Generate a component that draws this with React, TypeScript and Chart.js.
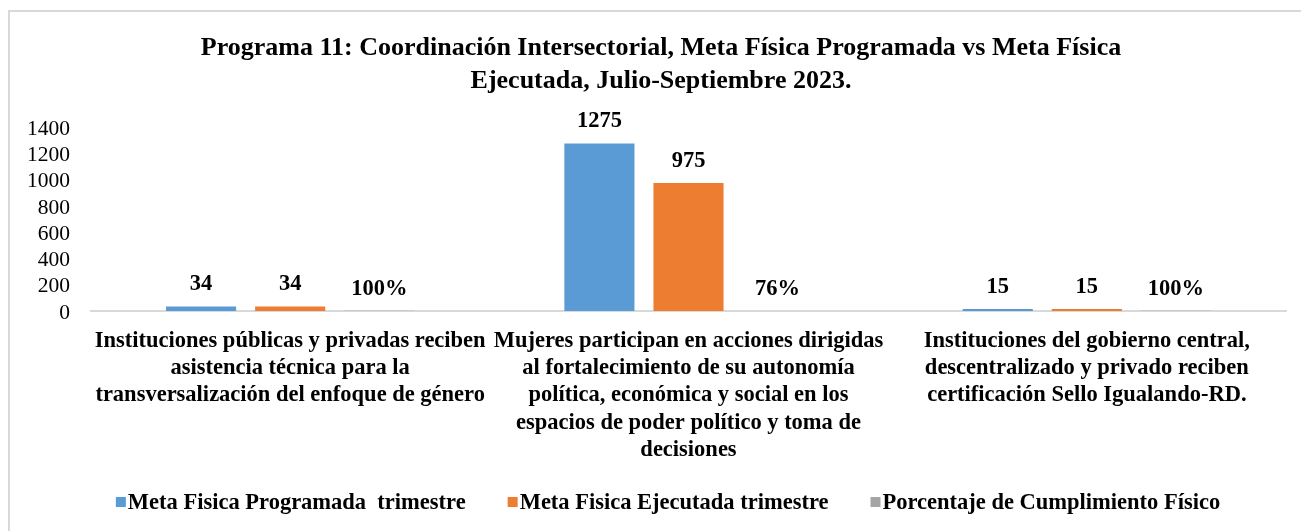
import React, { useEffect, useRef } from "react";
import { Chart, registerables } from "chart.js";

Chart.register(...registerables);

const categories: string[][] = [
  ["Instituciones públicas y privadas reciben", "asistencia técnica para la", "transversalización del enfoque de género"],
  ["Mujeres participan en acciones dirigidas", "al fortalecimiento de su autonomía", "política, económica y social en los", "espacios de poder político y toma de", "decisiones"],
  ["Instituciones del gobierno central,", "descentralizado y privado reciben", "certificación Sello Igualando-RD."],
];
const seriesNames = [
  "Meta Fisica Programada  trimestre",
  "Meta Fisica Ejecutada trimestre",
  "Porcentaje de Cumplimiento Físico",
];
const seriesColors = ["#5b9bd5", "#ed7d31", "#a5a5a5"];
const programada = [34, 1275, 15];
const ejecutada = [34, 975, 15];
const porcentaje = [1, 0.76, 1];
const yMax = 1400;
const yStep = 200;
const titleLines = [
  "Programa 11: Coordinación Intersectorial, Meta Física Programada vs Meta Física",
  "Ejecutada, Julio-Septiembre 2023.",
];

const SERIF = "'Liberation Serif', 'Times New Roman', serif";

const labelPlugin = {
  id: "valueLabels",
  afterDatasetsDraw(chart: any) {
    const ctx = chart.ctx;
    ctx.save();
    ctx.font = `bold 22.5px ${SERIF}`;
    ctx.fillStyle = "#000";
    ctx.textAlign = "center";
    ctx.textBaseline = "middle";
    chart.data.datasets.forEach((ds: any, di: number) => {
      const meta = chart.getDatasetMeta(di);
      meta.data.forEach((el: any, i: number) => {
        const v = ds.data[i];
        const txt = di === 2 ? `${Math.round(v * 100)}%` : `${v}`;
        ctx.fillText(txt, el.x, el.y - 22);
      });
    });
    ctx.restore();
  },
};

const legendPlugin = {
  id: "customLegend",
  afterDraw(chart: any) {
    const ctx = chart.ctx;
    ctx.save();
    ctx.font = `bold 22.5px ${SERIF}`;
    ctx.textBaseline = "middle";
    ctx.textAlign = "left";
    const box = 10;
    const gapText = 2;
    const gapItem = 42;
    const items = chart.data.datasets.map((ds: any) => ({
      label: ds.label,
      color: ds.backgroundColor,
      w: ctx.measureText(ds.label).width,
    }));
    const total =
      items.reduce((s: number, it: any) => s + box + gapText + it.w, 0) + gapItem * (items.length - 1);
    let x = chart.width / 2 + 7 - total / 2;
    const y = 491;
    items.forEach((it: any) => {
      ctx.fillStyle = it.color;
      ctx.fillRect(x, y - box / 2 - 1, box, box);
      x += box + gapText;
      ctx.fillStyle = "#000";
      ctx.fillText(it.label, x, y);
      x += it.w + gapItem;
    });
    ctx.restore();
  },
};

export default function App() {
  const ref = useRef<HTMLCanvasElement>(null);
  useEffect(() => {
    document.body.style.overflow = "hidden";
    const chart = new Chart(ref.current!, {
      type: "bar",
      data: {
        labels: categories,
        datasets: [
          { label: seriesNames[0], data: programada, backgroundColor: seriesColors[0], yAxisID: "y" },
          { label: seriesNames[1], data: ejecutada, backgroundColor: seriesColors[1], yAxisID: "y" },
          { label: seriesNames[2], data: porcentaje, backgroundColor: seriesColors[2], yAxisID: "y" },
        ],
      },
      options: {
        responsive: false,
        animation: false,
        datasets: { bar: { categoryPercentage: 0.671, barPercentage: 0.787 } },
        layout: { padding: { left: 0, right: 0, top: 0, bottom: 57 } },
        plugins: {
          title: {
            display: true,
            text: titleLines,
            font: { family: SERIF, size: 26, weight: "bold", lineHeight: 1.27 },
            color: "#000",
            padding: { top: 20, bottom: 29 },
          },
          legend: { display: false },
          tooltip: { enabled: false },
        },
        scales: {
          x: {
            grid: { display: false, drawTicks: false },
            border: { display: true, color: "#d9d9d9", width: 2 },
            afterFit(scale: any) {
              scale.height = 165;
            },
            ticks: {
              color: "#000",
              font: { family: SERIF, size: 22.5, weight: "bold", lineHeight: 1.22 },
              maxRotation: 0,
              autoSkip: false,
              padding: 16,
            },
          },
          y: {
            min: 0,
            max: yMax,
            grid: { display: false, drawTicks: false },
            border: { display: false },
            afterFit(scale: any) {
              scale.width = 81;
            },
            ticks: {
              stepSize: yStep,
              autoSkip: false,
              color: "#000",
              font: { family: SERIF, size: 21.5 },
              padding: 21,
              labelOffset: 2,
              callback: (v: any) => String(v),
            },
          },
          ySpacer: {
            position: "right",
            min: 0,
            max: yMax,
            grid: { display: false, drawTicks: false },
            border: { display: false },
            ticks: { display: false },
            afterFit(scale: any) {
              scale.width = 26;
            },
          },
        },
      },
      plugins: [labelPlugin, legendPlugin],
    });
    return () => chart.destroy();
  }, []);
  return (
    <div
      style={{
        position: "absolute",
        left: 8,
        top: 10,
        width: 1302,
        height: 530,
        border: "2px solid #d9d9d9",
        background: "#fff",
      }}
    >
      <canvas ref={ref} width={1302} height={521} style={{ display: "block" }} />
    </div>
  );
}
